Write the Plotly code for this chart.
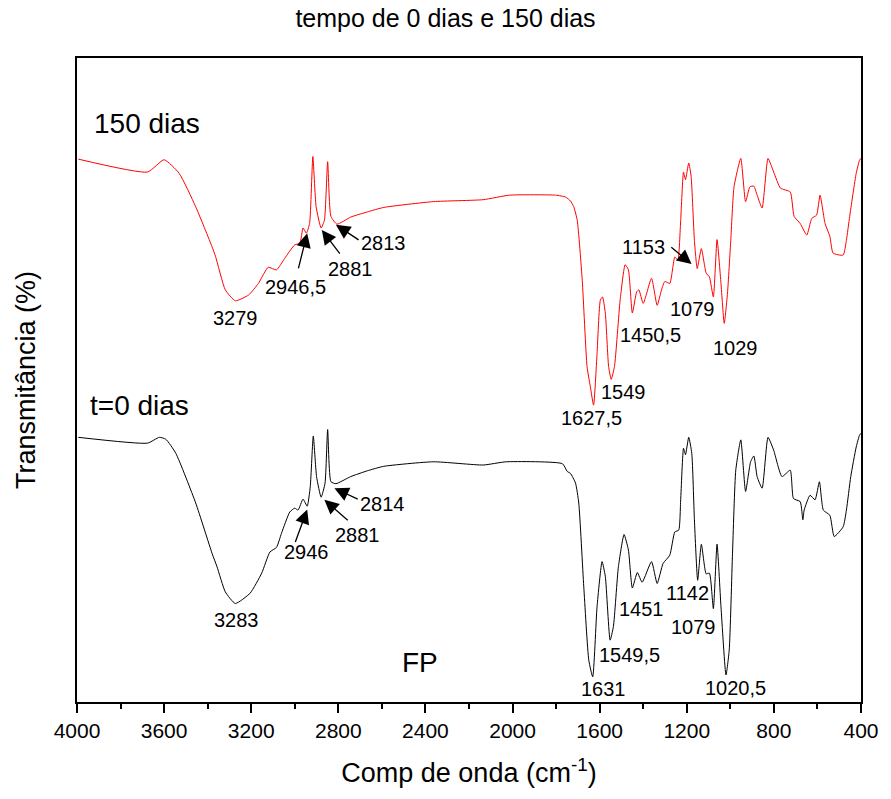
import plotly.graph_objects as go

# ---------------- data ----------------
wn_150 = [3994, 3676, 3600, 3531, 3455, 3380, 3364, 3319, 3273, 3212, 3167, 3122, 3084, 3046, 3000, 2977,
          2962, 2947, 2932, 2917, 2902, 2879, 2864, 2849, 2834, 2806, 2743, 2667, 2591, 2363, 2135, 2014,
          1802, 1756, 1734, 1719, 1703, 1680, 1658, 1643, 1628, 1612, 1597, 1587, 1574, 1559, 1547, 1532,
          1506, 1483, 1468, 1450, 1430, 1420, 1400, 1362, 1336, 1316, 1301, 1278, 1255, 1241, 1228, 1215,
          1206, 1191, 1180, 1165, 1152, 1133, 1111, 1096, 1078, 1061, 1043, 1028, 1013, 998, 983, 952,
          930, 910, 892, 877, 854, 827, 801, 770, 725, 707, 679, 649, 626, 604, 588, 565, 543, 528, 482,
          467, 452, 422, 406, 400]
t_150 = [84.3, 82.3, 84.2, 82.1, 76.9, 70.7, 69.2, 64.0, 62.3, 63.2, 65.0, 67.5, 67.1, 68.9, 71.0, 71.2,
         73.6, 72.8, 74.3, 84.7, 76.9, 73.6, 74.8, 83.9, 75.4, 74.2, 75.3, 76.1, 76.8, 77.7, 78.0, 78.7,
         78.7, 78.4, 77.8, 76.9, 74.8, 65.5, 52.1, 49.0, 46.1, 54.1, 62.4, 62.9, 60.4, 52.1, 50.1, 52.1,
         62.4, 67.9, 67.1, 60.4, 63.7, 64.0, 61.9, 65.8, 61.6, 64.0, 65.3, 65.0, 69.1, 68.6, 74.8, 82.3,
         81.1, 83.7, 81.6, 71.7, 67.3, 70.4, 66.6, 66.0, 62.9, 71.8, 65.0, 58.8, 63.5, 71.7, 80.0, 84.4,
         77.7, 80.0, 80.1, 78.7, 76.7, 84.4, 82.3, 79.8, 79.2, 75.4, 74.3, 72.5, 75.1, 75.6, 78.7, 74.3,
         72.3, 69.7, 69.4, 71.7, 75.4, 82.1, 84.2, 84.4]

wn_0 = [3994, 3676, 3622, 3592, 3546, 3455, 3380, 3357, 3319, 3273, 3205, 3152, 3114, 3084, 3061, 3023,
        3000, 2985, 2962, 2943, 2929, 2915, 2900, 2879, 2861, 2849, 2834, 2811, 2743, 2667, 2591, 2363,
        2135, 2029, 1771, 1749, 1734, 1711, 1696, 1673, 1650, 1632, 1612, 1589, 1574, 1552, 1537, 1514,
        1488, 1468, 1450, 1427, 1405, 1362, 1336, 1309, 1278, 1255, 1237, 1228, 1215, 1206, 1191, 1177,
        1165, 1150, 1133, 1111, 1096, 1078, 1061, 1043, 1020, 1005, 990, 975, 952, 930, 907, 892, 877,
        854, 827, 801, 763, 725, 710, 679, 667, 661, 634, 611, 591, 573, 543, 523, 482, 467, 447, 422,
        406, 400]
t_0 = [41.1, 40.2, 41.1, 40.8, 38.6, 30.9, 23.1, 21.0, 17.1, 15.3, 16.9, 20.0, 23.3, 24.0, 26.2, 29.5,
       30.1, 29.8, 31.5, 30.4, 33.4, 41.3, 35.0, 31.8, 34.0, 42.3, 34.2, 33.9, 35.0, 35.9, 36.6, 37.3,
       36.8, 37.3, 37.0, 35.8, 35.5, 34.0, 30.9, 17.9, 6.5, 3.9, 14.8, 21.8, 19.5, 9.6, 11.7, 21.0,
       26.0, 23.6, 17.7, 20.1, 18.6, 21.8, 18.4, 21.5, 22.8, 26.4, 26.7, 31.4, 39.4, 38.4, 41.1, 38.6,
       28.3, 18.9, 24.5, 19.9, 20.0, 14.5, 24.5, 14.8, 4.2, 8.1, 23.1, 36.0, 40.7, 32.7, 37.3, 38.2, 35.0,
       33.2, 41.1, 39.1, 35.0, 36.0, 31.6, 31.1, 28.3, 29.8, 32.1, 31.4, 34.2, 29.8, 29.0, 25.7, 27.2,
       29.8, 35.0, 39.6, 41.5, 41.7]

# peak labels: text, wavenumber, transmittance
labels_150 = ["3279", "2946,5", "2881", "2813", "1627,5", "1549", "1450,5", "1153", "1079", "1029"]
lx_150 = [3272, 2997, 2743, 2591, 1638, 1491, 1365, 1400, 1172, 975]
ly_150 = [59.7, 64.4, 67.2, 71.2, 44.1, 48.2, 57.0, 70.6, 61.1, 54.9]

labels_0 = ["3283", "2946", "2881", "2814", "1631", "1549,5", "1451", "1142", "1079", "1020,5", "FP"]
lx_0 = [3266, 2944, 2712, 2598, 1582, 1461, 1407, 1198, 1168, 975, 2425]
ly_0 = [12.7, 23.3, 25.9, 30.7, 2.0, 7.3, 14.5, 16.9, 11.7, 2.2, 6.1]
lsize_0 = [20, 20, 20, 20, 20, 20, 20, 20, 20, 20, 28]

# arrows: tail (x, y) -> head (x, y)
arrow_tail_x = [2985, 2788, 2700, 1278, 3000, 2750, 2704]
arrow_tail_y = [67.1, 69.4, 71.6, 70.8, 24.6, 28.0, 31.4]
arrow_head_x = [2943, 2876, 2811, 1178, 2943, 2864, 2818]
arrow_head_y = [72.8, 73.3, 74.1, 68.0, 29.9, 31.4, 33.2]

series_names = ["150 dias", "t=0 dias"]
series_lx = [3930, 3950]
series_ly = [89.8, 46.1]

x_ticks = [4000, 3600, 3200, 2800, 2400, 2000, 1600, 1200, 800, 400]

FONT = "Liberation Sans, Arial, sans-serif"

fig = go.Figure()
fig.add_trace(go.Scatter(x=wn_150, y=t_150, mode="lines",
                         line=dict(color="#ff0000", width=1, shape="spline", smoothing=0.5),
                         name=series_names[0], showlegend=False))
fig.add_trace(go.Scatter(x=wn_0, y=t_0, mode="lines",
                         line=dict(color="#000000", width=1, shape="spline", smoothing=0.5),
                         name=series_names[1], showlegend=False))

ann = []
for t, x, y in zip(labels_150, lx_150, ly_150):
    ann.append(dict(x=x, y=y, text=t, showarrow=False, font=dict(size=20, color="black", family=FONT),
                    xanchor="center", yanchor="middle"))
for t, x, y, s in zip(labels_0, lx_0, ly_0, lsize_0):
    ann.append(dict(x=x, y=y, text=t, showarrow=False, font=dict(size=s, color="black", family=FONT),
                    xanchor="center", yanchor="middle"))
for t, x, y in zip(series_names, series_lx, series_ly):
    ann.append(dict(x=x, y=y, text=t, showarrow=False, font=dict(size=28, color="black", family=FONT),
                    xanchor="left", yanchor="middle"))
for tx, ty, hx, hy in zip(arrow_tail_x, arrow_tail_y, arrow_head_x, arrow_head_y):
    ann.append(dict(x=hx, y=hy, ax=tx, ay=ty, axref="x", ayref="y", text="", showarrow=True,
                    arrowhead=2, arrowsize=2.2, arrowwidth=1.3, arrowcolor="black"))

W, H = 891, 799
fig.update_layout(
    width=W, height=H,
    margin=dict(l=77, r=23, t=58, b=97),
    paper_bgcolor="white", plot_bgcolor="white",
    font=dict(family=FONT, color="black"),
    title=dict(text="tempo de 0 dias e 150 dias", x=0.5, xanchor="center",
               y=1 - 18 / H, yanchor="middle", yref="container",
               font=dict(size=25, family=FONT, color="black")),
    annotations=ann,
    showlegend=False,
)
fig.update_xaxes(range=[4000, 400], tickvals=x_ticks, ticks="outside", ticklen=9, tickwidth=2,
                 tickcolor="black", showline=True, linecolor="black", linewidth=2, mirror=True,
                 showgrid=False, zeroline=False, tickfont=dict(size=21, family=FONT, color="black"),
                 minor=dict(dtick=200, ticks="outside", ticklen=5, tickwidth=2, tickcolor="black", showgrid=False),
                 title=dict(text="Comp de onda (cm<sup>-1</sup>)", font=dict(size=27, family=FONT, color="black"),
                            standoff=22))
fig.update_yaxes(range=[0, 100], showticklabels=False, ticks="", showline=True, linecolor="black",
                 linewidth=2, mirror=True, showgrid=False, zeroline=False,
                 title=dict(text="Transmitância (%)", font=dict(size=27, family=FONT, color="black"),
                            standoff=32))

fig.write_html("out.html", config={"displayModeBar": False},
               post_script="document.body.style.margin='0';document.body.style.overflow='hidden';")
